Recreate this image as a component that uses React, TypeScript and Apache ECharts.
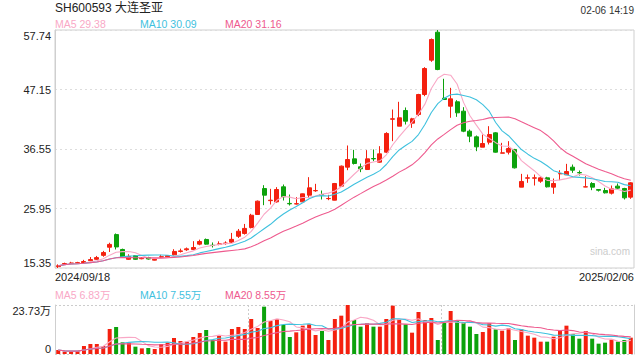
import React, { useEffect, useRef } from "react";
import * as echarts from "echarts";

const dates = [
  "2024/09/18","2024/09/19","2024/09/20","2024/09/23","2024/09/24","2024/09/25","2024/09/26","2024/09/27","2024/09/30",
  "2024/10/08","2024/10/09","2024/10/10","2024/10/11","2024/10/14","2024/10/15","2024/10/16","2024/10/17","2024/10/18",
  "2024/10/21","2024/10/22","2024/10/23","2024/10/24","2024/10/25","2024/10/28","2024/10/29","2024/10/30","2024/10/31",
  "2024/11/01","2024/11/04","2024/11/05","2024/11/06","2024/11/07","2024/11/08","2024/11/11","2024/11/12","2024/11/13",
  "2024/11/14","2024/11/15","2024/11/18","2024/11/19","2024/11/20","2024/11/21","2024/11/22","2024/11/25","2024/11/26",
  "2024/11/27","2024/11/28","2024/11/29",
  "2024/12/02","2024/12/03","2024/12/04","2024/12/05","2024/12/06","2024/12/09","2024/12/10","2024/12/11","2024/12/12",
  "2024/12/13","2024/12/16","2024/12/17","2024/12/18","2024/12/19","2024/12/20","2024/12/23","2024/12/24","2024/12/25",
  "2024/12/26","2024/12/27","2024/12/30","2024/12/31",
  "2025/01/02","2025/01/03","2025/01/06","2025/01/07","2025/01/08","2025/01/09","2025/01/10","2025/01/13","2025/01/14",
  "2025/01/15","2025/01/16","2025/01/17","2025/01/20","2025/01/21","2025/01/22","2025/01/23","2025/01/24","2025/01/27",
  "2025/02/05","2025/02/06",
];

const opens = [
  15.60,16.05,16.15,16.20,16.30,16.65,16.90,17.60,19.05,21.30,
  18.65,16.90,17.55,17.00,17.20,16.75,17.30,17.35,17.70,18.30,
  18.60,18.65,19.60,20.43,19.40,19.55,19.70,19.95,21.00,21.50,
  22.55,24.88,29.50,27.35,27.13,29.81,26.85,26.75,27.13,28.32,
  29.10,28.42,27.70,27.43,29.93,33.31,34.79,33.37,32.89,34.85,
  34.20,35.98,41.85,40.61,43.40,41.15,42.69,46.25,52.37,57.35,
  45.60,44.17,44.95,43.28,39.72,38.71,36.87,37.76,39.42,35.80,
  35.98,36.46,29.75,31.35,31.35,30.82,31.41,29.75,32.12,31.94,
  33.31,32.35,29.78,30.40,29.33,29.15,28.68,29.93,29.51,27.97,
];
const closes = [
  15.75,16.15,16.25,16.30,16.50,16.85,17.20,18.10,19.55,19.10,
  17.35,17.40,16.90,17.10,16.95,16.90,17.35,17.55,18.30,18.40,
  18.76,19.00,20.07,19.60,19.35,19.65,19.80,20.45,21.90,22.40,
  24.75,27.25,28.32,27.43,29.33,28.03,26.78,26.80,28.56,29.63,
  29.15,28.38,27.73,30.40,33.49,34.67,33.96,33.01,34.79,34.79,
  35.68,39.31,41.92,42.10,41.50,41.92,46.25,50.88,56.05,50.70,
  45.36,45.48,42.99,39.72,38.83,36.93,37.52,39.13,35.98,35.86,
  36.63,33.19,30.76,31.41,31.41,31.41,29.81,30.40,32.18,32.54,
  32.77,32.30,29.81,29.75,29.20,28.74,29.45,29.57,27.85,30.52,
];
const lows = [
  15.35,15.95,16.05,16.10,16.20,16.55,16.80,17.35,18.20,18.65,
  17.20,16.80,16.80,16.90,16.85,16.70,17.00,17.30,17.60,18.10,
  18.40,18.55,19.40,19.50,19.00,19.40,19.50,19.80,20.70,21.30,
  22.40,24.80,26.54,26.66,27.00,27.37,26.48,26.66,27.10,27.85,
  28.92,27.55,27.43,27.40,29.80,32.77,33.78,32.42,32.80,34.38,
  34.10,35.86,37.94,40.61,40.91,40.31,42.39,45.95,52.07,50.58,
  45.30,42.10,42.27,39.54,37.76,36.16,36.87,37.35,35.90,35.80,
  35.57,33.07,29.75,30.52,30.04,30.52,29.69,28.56,30.99,31.94,
  32.30,31.82,29.75,29.21,28.97,28.62,28.44,29.45,27.55,27.67,
];
const highs = [
  16.00,16.30,16.45,16.45,16.80,17.30,17.50,18.40,19.85,21.50,
  18.80,17.80,17.60,17.30,17.35,16.95,17.70,17.60,18.70,18.80,
  19.00,20.13,20.40,20.60,19.90,20.10,20.10,21.60,22.30,23.20,
  25.00,27.37,30.10,29.45,29.75,30.22,28.44,27.97,28.60,31.53,
  30.34,29.15,28.38,30.50,33.60,37.17,36.40,33.96,36.34,36.46,
  37.05,39.54,43.58,44.95,43.94,42.10,46.37,51.12,56.23,57.74,
  49.05,47.44,45.24,43.99,40.02,38.95,39.13,40.61,39.54,37.64,
  37.94,36.57,32.12,32.00,32.00,31.71,31.59,31.29,32.77,33.90,
  33.78,32.72,31.71,30.64,29.33,29.63,30.04,30.40,29.63,30.64,
];
// volume in 万手
const volumes = [
  1.94,1.13,1.13,1.45,3.87,4.84,4.84,3.87,12.10,13.08,
  5.65,5.49,3.55,2.74,2.91,2.42,4.84,5.49,7.75,6.30,
  5.97,8.23,10.17,11.62,6.78,8.88,5.97,12.10,13.08,12.10,
  16.95,12.59,22.92,15.98,16.79,14.04,8.23,10.49,13.72,14.37,
  9.20,11.14,6.78,16.95,18.56,23.73,16.47,13.24,14.85,13.24,
  13.24,16.95,23.41,16.79,14.37,10.33,20.34,16.47,17.44,6.78,
  15.66,20.82,16.14,15.34,13.24,9.69,10.65,14.85,11.95,11.30,
  12.43,6.78,11.95,8.88,7.91,5.97,5.97,8.39,11.30,13.72,
  9.53,7.42,11.14,7.42,5.00,5.49,6.94,5.97,6.78,7.91,
];

const priceTickLabels = ["15.35", "25.95", "36.55", "47.15", "57.74"];
const volTickLabels = ["0", "23.73万"];
const title = "SH600593 大连圣亚";
const timeStamp = "02-06 14:19";
const priceLegend = ["MA5 29.38", "MA10 30.09", "MA20 31.16"];
const volLegend = ["MA5 6.83万", "MA10 7.55万", "MA20 8.55万"];

const RED = "#f4200f";
const GREEN = "#0ca20c";
const C_MA5 = "#f9a8c6";
const C_MA10 = "#3fc1de";
const C_MA20 = "#ee5a8e";
const FONT = "'Liberation Sans', Arial, 'Noto Sans CJK SC', sans-serif";

function movingAvg(arr: number[], n: number): number[] {
  return arr.map((_, i) => {
    const s = Math.max(0, i - n + 1);
    let sum = 0;
    for (let k = s; k <= i; k++) sum += arr[k];
    return +(sum / (i - s + 1)).toFixed(3);
  });
}

export default function App() {
  const ref = useRef<HTMLDivElement>(null);
  useEffect(() => {
    if (!ref.current) return;
    const chart = echarts.init(ref.current, undefined, { renderer: "svg" });
    const candleData = opens.map((o, i) => [o, closes[i], lows[i], highs[i]]);
    const volData = volumes.map((v, i) => ({
      value: v,
      itemStyle: { color: closes[i] >= opens[i] ? RED : GREEN },
    }));
    const lineS = (name: string, data: number[], color: string, xi: number, yi: number) => ({
      name,
      type: "line",
      xAxisIndex: xi,
      yAxisIndex: yi,
      data,
      showSymbol: false,
      symbol: "none",
      silent: true,
      lineStyle: { color, width: 1.1 },
      z: 3,
    });
    const hiddenCat = (gi: number) => ({
      type: "category",
      gridIndex: gi,
      data: dates,
      boundaryGap: true,
      axisLine: { show: false },
      axisTick: { show: false },
      axisLabel: { show: false },
      splitLine: { show: false },
    });
    const txt = (text: string, x: number, y: number, fill: string, size: number, align = "left") => ({
      type: "text",
      x,
      y,
      silent: true,
      style: { text, fill, fontSize: size, fontFamily: FONT, align, verticalAlign: "middle" },
    });
    const option: any = {
      animation: false,
      grid: [
        { left: 55, right: 6, top: 30, height: 238, show: true, borderColor: "#cfcfcf", borderWidth: 1 },
        { left: 55, right: 6, top: 305, height: 49, show: false },
      ],
      xAxis: [
        hiddenCat(0),
        hiddenCat(1),
        {
          type: "value",
          gridIndex: 1,
          min: 0,
          max: 90,
          interval: 30,
          axisLine: { show: false },
          axisTick: { show: false },
          axisLabel: { show: false },
          splitLine: { show: true, lineStyle: { type: [2, 2], color: "#cccccc" } },
        },
      ],
      yAxis: [
        { type: "value", gridIndex: 0, position: "left", min: 15.35, max: 57.74, show: false, splitLine: { show: false } },
        {
          type: "value",
          gridIndex: 0,
          position: "left",
          offset: 0,
          min: 0,
          max: 4,
          interval: 1,
          axisLine: { show: true, lineStyle: { color: "#cfcfcf" } },
          axisTick: { show: false },
          axisLabel: {
            formatter: (v: number) => priceTickLabels[Math.round(v)],
            color: "#222",
            fontSize: 11,
            fontFamily: FONT,
            margin: 4,
            verticalAlignMinLabel: "bottom",
            verticalAlignMaxLabel: "top",
          },
          splitLine: { show: true, lineStyle: { type: [2, 3], color: "#dddddd" } },
        },
        {
          type: "value",
          gridIndex: 1,
          position: "left",
          min: 0,
          max: 23.73,
          interval: 23.73,
          axisLine: { show: true, lineStyle: { color: "#cfcfcf" } },
          axisTick: { show: false },
          axisLabel: {
            formatter: (v: number) => (v === 0 ? volTickLabels[0] : volTickLabels[1]),
            color: "#222",
            fontSize: 11,
            fontFamily: FONT,
            margin: 4,
            verticalAlignMinLabel: "bottom",
            verticalAlignMaxLabel: "top",
          },
          splitLine: { show: true, lineStyle: { type: [2, 2], color: "#cccccc" } },
        },
        {
          type: "value",
          gridIndex: 1,
          position: "right",
          min: 0,
          max: 1,
          axisLine: { show: true, lineStyle: { color: "#cfcfcf" } },
          axisTick: { show: false },
          axisLabel: { show: false },
          splitLine: { show: false },
        },
      ],
      series: [
        {
          type: "candlestick",
          xAxisIndex: 0,
          yAxisIndex: 0,
          data: candleData,
          barWidth: 4.5,
          itemStyle: { color: RED, color0: GREEN, borderColor: RED, borderColor0: GREEN, borderWidth: 1 },
          z: 2,
        },
        lineS("MA5", movingAvg(closes, 5), C_MA5, 0, 0),
        lineS("MA10", movingAvg(closes, 10), C_MA10, 0, 0),
        lineS("MA20", movingAvg(closes, 20), C_MA20, 0, 0),
        {
          type: "bar",
          xAxisIndex: 1,
          yAxisIndex: 2,
          data: volData,
          barWidth: 4,
          z: 2,
        },
        lineS("VMA5", movingAvg(volumes, 5), C_MA5, 1, 2),
        lineS("VMA10", movingAvg(volumes, 10), C_MA10, 1, 2),
        lineS("VMA20", movingAvg(volumes, 20), C_MA20, 1, 2),
      ],
      graphic: [
        txt(title, 55, 8, "#222", 12),
        txt(timeStamp, 634, 10, "#333", 10, "right"),
        txt(priceLegend[0], 55, 24, C_MA5, 10.5),
        txt(priceLegend[1], 140, 24, C_MA10, 10.5),
        txt(priceLegend[2], 225, 24, C_MA20, 10.5),
        txt(dates[0], 55, 277, "#222", 11),
        txt(dates[dates.length - 1], 634, 277, "#222", 11, "right"),
        txt(volLegend[0], 55, 295, C_MA5, 10.5),
        txt(volLegend[1], 140, 295, C_MA10, 10.5),
        txt(volLegend[2], 225, 295, C_MA20, 10.5),
        txt("sina.com", 630, 251, "#cccccc", 10, "right"),
      ],
    };
    chart.setOption(option);
    return () => chart.dispose();
  }, []);
  return (
    <div
      ref={ref}
      style={{ position: "fixed", left: 0, top: 0, width: 640, height: 360, background: "#fff" }}
    />
  );
}
